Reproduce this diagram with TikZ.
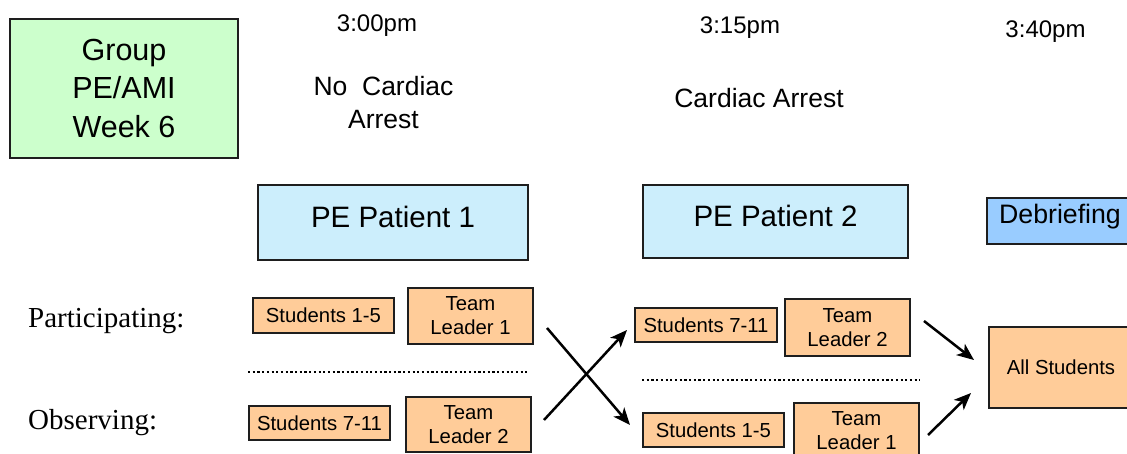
\documentclass[tikz,border=0pt]{standalone}
\usepackage{fontspec}
\setmainfont{Liberation Sans}
\newfontfamily\labelserif{Liberation Serif}
\usetikzlibrary{arrows.meta}
\definecolor{groupgreen}{RGB}{204,255,204}
\definecolor{patientblue}{RGB}{204,238,252}
\definecolor{debriefblue}{RGB}{153,204,255}
\definecolor{roleorange}{RGB}{255,204,153}
\definecolor{edgegray}{RGB}{30,30,30}

\begin{document}
\begin{tikzpicture}[x=1pt,y=-1pt,
  box/.style={draw=edgegray, line width=1.5pt, inner sep=0pt, align=center},
  rolebox/.style={box, fill=roleorange, font=\fontsize{20.3}{24}\selectfont},
  patientbox/.style={box, fill=patientblue, font=\fontsize{29.5}{34}\selectfont, text depth=12pt},
  timelabel/.style={anchor=base, inner sep=0pt, font=\fontsize{24}{28}\selectfont},
  caption/.style={inner sep=0pt, align=center, font=\fontsize{26.5}{33}\selectfont},
  rowlabel/.style={anchor=base west, inner sep=0pt, font=\labelserif\fontsize{29}{34}\selectfont},
  flow/.style={line width=2.5pt, -{Stealth[length=17pt,width=14pt,inset=4.5pt]}},
  divider/.style={line width=2.2pt, dash pattern=on 2.2pt off 2.5pt}
]
\useasboundingbox (0,0) rectangle (1127,454);
\clip (0,0) rectangle (1127,454);

% title block
\node[box, fill=groupgreen, line width=2pt, minimum width=228pt, minimum height=139pt,
      font=\fontsize{30.5}{38.5}\selectfont] (group) at (124,88.5) {Group\\PE/AMI\\Week 6};

% time line headings
\node[timelabel] (t1) at (377,32) {3:00pm};
\node[timelabel] (t2) at (740,34) {3:15pm};
\node[timelabel] (t3) at (1045.5,38) {3:40pm};

\node[caption] (c1) at (383.5,103) {No\ \ Cardiac\\Arrest};
\node[caption, anchor=base] (c2) at (759,108) {Cardiac Arrest};

% scenario boxes
\node[patientbox, minimum width=270pt, minimum height=75pt] (pe1) at (393,222.5) {PE Patient 1};
\node[patientbox, minimum width=265pt, minimum height=73pt] (pe2) at (775.5,221.5) {PE Patient 2};
\node[box, fill=debriefblue, minimum width=146pt, minimum height=46pt,
      font=\fontsize{26.7}{32}\selectfont, text depth=14pt] (deb) at (1060,221) {Debriefing};

% row labels
\node[rowlabel] (part) at (28,327) {Participating:};
\node[rowlabel] (obs) at (28,429) {Observing:};

% first scenario roles
\node[rolebox, minimum width=141pt, minimum height=35pt] (s15a) at (323.5,315.5) {Students 1-5};
\node[rolebox, minimum width=125pt, minimum height=56pt] (tl1a) at (470.5,316) {Team\\Leader 1};
\node[rolebox, minimum width=141pt, minimum height=34pt] (s711a) at (319.5,423) {Students 7-11};
\node[rolebox, minimum width=125pt, minimum height=55pt] (tl2a) at (468.5,424.5) {Team\\Leader 2};

% second scenario roles
\node[rolebox, minimum width=142pt, minimum height=34pt] (s711b) at (706,325) {Students 7-11};
\node[rolebox, minimum width=125pt, minimum height=57pt] (tl2b) at (847.5,327.5) {Team\\Leader 2};
\node[rolebox, minimum width=141pt, minimum height=34pt] (s15b) at (713.5,430) {Students 1-5};
\node[rolebox, minimum width=125pt, minimum height=56pt] (tl1b) at (856.5,431) {Team\\Leader 1};

% debriefing group
\node[rolebox, minimum width=144pt, minimum height=81pt] (all) at (1061,367.5) {All Students};

% dotted separators between the two rows
\coordinate (da1) at (248,372);
\coordinate (da2) at (527,372);
\coordinate (db1) at (642,380);
\coordinate (db2) at (920,380);
\draw[divider] (da1) -- (da2);
\draw[divider] (db1) -- (db2);

% role swap arrows
\coordinate (xa1) at (547,328);
\coordinate (xa2) at (630,425);
\coordinate (xb1) at (544,420);
\coordinate (xb2) at (627,330);
\draw[flow] (xa1) -- (xa2);
\draw[flow] (xb1) -- (xb2);

% arrows into the debriefing group
\coordinate (ya1) at (924,321);
\coordinate (ya2) at (974,360);
\coordinate (yb1) at (928,435);
\coordinate (yb2) at (971,393);
\draw[flow] (ya1) -- (ya2);
\draw[flow] (yb1) -- (yb2);
\end{tikzpicture}
\end{document}
